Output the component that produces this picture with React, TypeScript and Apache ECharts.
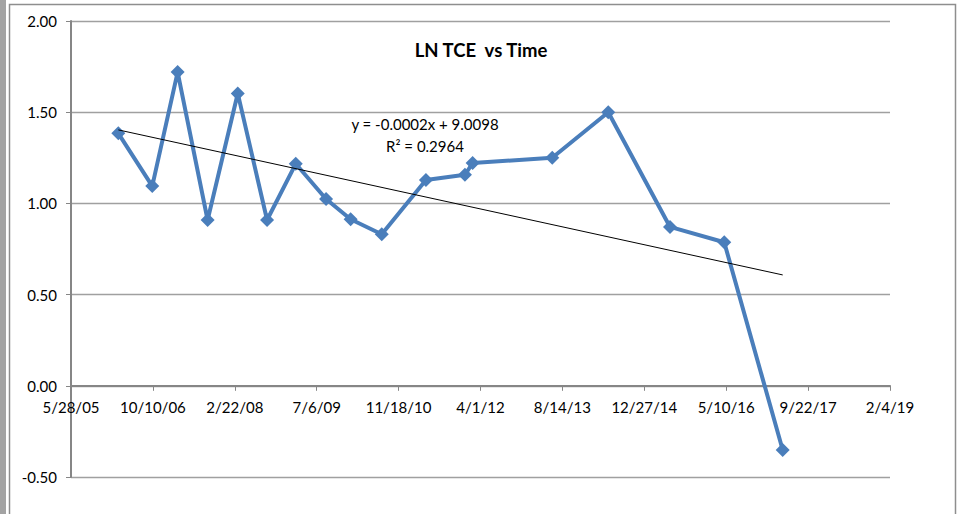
import React, { useEffect, useRef } from "react";
import * as echarts from "echarts";

// Excel date serial numbers (days) of each sample
const dates = [38789, 38996, 39151, 39334, 39518, 39697, 39872, 40057, 40207, 40397, 40667, 40905, 40952, 41438, 41780, 42157, 42488, 42845];
// LN TCE values
const lnTce = [1.384, 1.095, 1.72, 0.909, 1.603, 0.909, 1.217, 1.024, 0.913, 0.831, 1.128, 1.157, 1.221, 1.25, 1.5, 0.871, 0.787, -0.352];
// x-axis tick labels (every 500 days from 38500)
const xTickLabels = ["5/28/05", "10/10/06", "2/22/08", "7/6/09", "11/18/10", "4/1/12", "8/14/13", "12/27/14", "5/10/16", "9/22/17", "2/4/19"];
const xMin = 38500;
const xMax = 43500;
const xStep = 500;
const yTicks = [-0.5, 0, 0.5, 1.0, 1.5, 2.0];
const titleText = "LN TCE  vs Time";
const equationText = "y = -0.0002x + 9.0098";
const r2Text = "R² = 0.2964";

function linearFit(xs: number[], ys: number[]) {
  const n = xs.length;
  const mx = xs.reduce((a, b) => a + b, 0) / n;
  const my = ys.reduce((a, b) => a + b, 0) / n;
  let sxy = 0, sxx = 0;
  for (let i = 0; i < n; i++) {
    sxy += (xs[i] - mx) * (ys[i] - my);
    sxx += (xs[i] - mx) * (xs[i] - mx);
  }
  const slope = sxy / sxx;
  return { slope, intercept: my - slope * mx };
}

const GRID_TOP = 21;
const GRID_BOTTOM = 37;
const HEIGHT = 514;

export default function App() {
  const ref = useRef<HTMLDivElement>(null);
  useEffect(() => {
    if (!ref.current) return;
    const chart = echarts.init(ref.current, null, { renderer: "svg" });
    const fit = linearFit(dates, lnTce);
    const x0 = dates[0];
    const x1 = dates[dates.length - 1];
    const trend = [
      [x0, fit.slope * x0 + fit.intercept],
      [x1, fit.slope * x1 + fit.intercept],
    ];
    const yMin = yTicks[0];
    const yMax = yTicks[yTicks.length - 1];
    const plotH = HEIGHT - GRID_TOP - GRID_BOTTOM;
    // move the date axis up so it crosses the value axis at 0
    const zeroOffset = -((0 - yMin) / (yMax - yMin)) * plotH;
    const font = "Lato, 'Noto Sans', sans-serif";
    chart.setOption({
      animation: false,
      backgroundColor: "#ffffff",
      textStyle: { fontFamily: font },
      title: {
        text: titleText,
        left: 476,
        top: 35,
        textAlign: "center",
        textStyle: { fontFamily: font, fontSize: 18.5, fontWeight: "bold", color: "#000000" },
      },
      graphic: [
        { type: "rect", z: -10, shape: { x: 0, y: 0, width: 6, height: 514 }, style: { fill: "#a3a3a3" }, silent: true },
        { type: "rect", z: -10, shape: { x: 9.5, y: 4.5, width: 946, height: 520 }, style: { fill: "none", stroke: "#8e8e8e", lineWidth: 1.5 }, silent: true },
        { type: "text", z: 10, x: 425, y: 124, style: { text: equationText, fontFamily: font, fontSize: 15, fill: "#000000", align: "center", verticalAlign: "middle" } },
        { type: "text", z: 10, x: 425, y: 146, style: { text: r2Text, fontFamily: font, fontSize: 15, fill: "#000000", align: "center", verticalAlign: "middle" } },
      ],
      grid: { left: 71, right: 76, top: GRID_TOP, bottom: GRID_BOTTOM },
      xAxis: {
        type: "value",
        position: "bottom",
        offset: zeroOffset,
        min: xMin,
        max: xMax,
        interval: xStep,
        axisLine: { show: true, onZero: false, lineStyle: { color: "#868686", width: 2 } },
        axisTick: { show: true, inside: false, length: 5, lineStyle: { color: "#868686", width: 1 } },
        axisLabel: {
          show: true,
          margin: 14,
          showMinLabel: true,
          showMaxLabel: true,
          fontFamily: font,
          fontSize: 15,
          color: "#000000",
          formatter: (v: number) => xTickLabels[Math.round((v - xMin) / xStep)] ?? "",
        },
        splitLine: { show: false },
      },
      yAxis: {
        type: "value",
        min: yMin,
        max: yMax,
        interval: 0.5,
        axisLine: { show: true, onZero: false, lineStyle: { color: "#868686", width: 2 } },
        axisTick: { show: true, inside: false, length: 5, lineStyle: { color: "#868686", width: 1 } },
        axisLabel: {
          show: true,
          margin: 14,
          fontFamily: font,
          fontSize: 15,
          color: "#000000",
          formatter: (v: number) => v.toFixed(2),
        },
        splitLine: { show: true, lineStyle: { color: "#a0a0a0", width: 1.3 } },
      },
      series: [
        {
          name: "LN TCE",
          type: "line",
          data: dates.map((d, i) => [d, lnTce[i]]),
          symbol: "diamond",
          symbolSize: 14,
          lineStyle: { color: "#4a7ebb", width: 4 },
          itemStyle: { color: "#4a7ebb" },
          z: 2,
        },
        {
          name: "Trend",
          type: "line",
          data: trend,
          symbol: "none",
          lineStyle: { color: "#000000", width: 1 },
          z: 3,
        },
      ],
    });
    return () => chart.dispose();
  }, []);
  return <div ref={ref} style={{ position: "absolute", left: 0, top: 0, width: 966, height: 514 }} />;
}
